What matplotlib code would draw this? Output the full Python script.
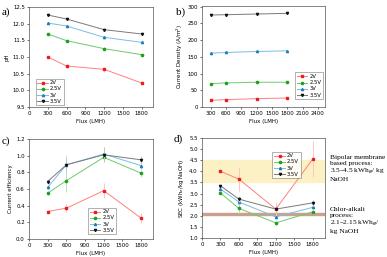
import numpy as np
import matplotlib
matplotlib.use("Agg")
import matplotlib.pyplot as plt
from matplotlib.lines import Line2D

plt.rcParams["font.family"] = ["DejaVu Sans"]

flux = [300, 600, 1200, 1800]
voltages = ["2V", "2.5V", "3V", "3.5V"]

# a) pH
ph = {
    "2V": [11.00, 10.73, 10.63, 10.22],
    "2.5V": [11.69, 11.49, 11.25, 11.07],
    "3V": [12.02, 11.93, 11.59, 11.44],
    "3.5V": [12.26, 12.14, 11.82, 11.69],
}
ph_err = {
    "2V": [0.02, 0.05, 0.08, 0.07],
    "2.5V": [0.02, 0.05, 0.04, 0.03],
    "3V": [0.02, 0.03, 0.04, 0.03],
    "3.5V": [0.02, 0.03, 0.04, 0.03],
}

# b) current density
cd = {
    "2V": [20, 22, 25, 27],
    "2.5V": [70, 72, 74, 74],
    "3V": [161, 163, 166, 168],
    "3.5V": [275, 276, 278, 280],
}
cd_err = {
    "2V": [1, 1, 1, 1],
    "2.5V": [1, 1, 1, 1],
    "3V": [1, 1, 2, 1],
    "3.5V": [1, 2, 2, 2],
}

# c) current efficiency
ce = {
    "2V": [0.33, 0.37, 0.58, 0.25],
    "2.5V": [0.55, 0.70, 0.98, 0.79],
    "3V": [0.62, 0.89, 1.02, 0.88],
    "3.5V": [0.69, 0.89, 1.01, 0.95],
}
ce_err = {
    "2V": [0.02, 0.05, 0.09, 0.06],
    "2.5V": [0.02, 0.13, 0.06, 0.04],
    "3V": [0.03, 0.12, 0.08, 0.05],
    "3.5V": [0.03, 0.08, 0.09, 0.05],
}

# d) specific energy consumption
sec = {
    "2V": [4.00, 3.65, 2.30, 4.55],
    "2.5V": [3.03, 2.33, 1.68, 2.18],
    "3V": [3.20, 2.62, 1.95, 2.38],
    "3.5V": [3.35, 2.75, 2.30, 2.58],
}
sec_err = {
    "2V": [0.08, 0.55, 0.30, 0.80],
    "2.5V": [0.05, 0.20, 0.10, 0.12],
    "3V": [0.05, 0.15, 0.10, 0.10],
    "3.5V": [0.05, 0.15, 0.12, 0.12],
}

line_col = {"2V": "#ff8080", "2.5V": "#70c870", "3V": "#7ebde0", "3.5V": "#7a7a7a"}
err_col = {"2V": "#ffc4c4", "2.5V": "#b8e4b8", "3V": "#bfe0f0", "3.5V": "#c4c4c4"}
mark_col = {"2V": "#ee1c1c", "2.5V": "#1f9e1f", "3V": "#1f7fc0", "3.5V": "#111111"}
markers = {"2V": "s", "2.5V": "o", "3V": "^", "3.5V": "v"}

fig = plt.figure(figsize=(3.87, 2.57), dpi=100)
W, H = 387, 257


def box(x0, y0, x1, y1):
    return [x0 / W, 1 - y1 / H, (x1 - x0) / W, (y1 - y0) / H]


ax_a = fig.add_axes(box(29, 7, 153, 107))
ax_b = fig.add_axes(box(202, 6, 325, 107))
ax_c = fig.add_axes(box(29, 139, 153, 239))
ax_d = fig.add_axes(box(202, 138, 325, 238))


def draw(ax, data, err):
    for v in voltages:
        ax.errorbar(flux, data[v], yerr=err[v], fmt="none", ecolor=err_col[v],
                    elinewidth=0.7, capsize=0)
        ax.plot(flux, data[v], color=line_col[v], lw=0.7, marker=markers[v],
                ms=1.6, mfc=mark_col[v], mec=mark_col[v], label=v)


def style(ax):
    ax.tick_params(labelsize=3.9, length=1.5, width=0.4, pad=1.5)
    for s in ax.spines.values():
        s.set_linewidth(0.5)
        s.set_color("#555555")
    ax.set_xlabel("Flux (LMH)", fontsize=4.0, labelpad=2)


def legend(ax, **kw):
    handles = [Line2D([], [], color=line_col[v], lw=0.7, marker=markers[v],
                      ms=1.6, mfc=mark_col[v], mec=mark_col[v]) for v in voltages]
    lg = ax.legend(handles, voltages, fontsize=3.8, frameon=True, fancybox=False,
                   handlelength=2.0, handletextpad=0.4, borderpad=0.35,
                   labelspacing=0.2, borderaxespad=0.3, **kw)
    lg.get_frame().set_linewidth(0.4)
    lg.get_frame().set_edgecolor("#555555")


# a
draw(ax_a, ph, ph_err)
ax_a.set_xlim(0, 1980)
ax_a.set_ylim(9.5, 12.5)
ax_a.set_xticks(np.arange(0, 1801, 300))
ax_a.set_yticks(np.arange(9.5, 12.51, 0.5))
ax_a.set_ylabel("pH", fontsize=4.0, labelpad=2)
style(ax_a)
legend(ax_a, loc="lower left", bbox_to_anchor=(0.04, 0.0))

# b
draw(ax_b, cd, cd_err)
ax_b.set_xlim(130, 2540)
ax_b.set_ylim(0, 302)
ax_b.set_xticks(np.arange(300, 2401, 300))
ax_b.set_yticks(np.arange(0, 301, 50))
ax_b.set_ylabel("Current Density (A/m$^2$)", fontsize=4.0, labelpad=2)
style(ax_b)
legend(ax_b, loc="lower right", bbox_to_anchor=(1.0, 0.06))

# c
draw(ax_c, ce, ce_err)
ax_c.set_xlim(0, 1990)
ax_c.set_ylim(0, 1.2)
ax_c.set_xticks(np.arange(0, 1801, 300))
ax_c.set_yticks(np.arange(0, 1.21, 0.2))
ax_c.set_ylabel("Current efficiency", fontsize=4.0, labelpad=2)
style(ax_c)
legend(ax_c, loc="lower center", bbox_to_anchor=(0.59, 0.03))

# d
ax_d.axhspan(3.5, 4.5, color="#fcf1c4", zorder=0)
ax_d.axhspan(2.04, 2.13, color="#c9a18c", zorder=0)
draw(ax_d, sec, sec_err)
ax_d.set_xlim(0, 2000)
ax_d.set_ylim(1.0, 5.5)
ax_d.set_xticks(np.arange(0, 1801, 300))
ax_d.set_yticks(np.arange(1.0, 5.51, 0.5))
ax_d.set_ylabel("SEC (kWh$_e$/kg NaOH)", fontsize=4.0, labelpad=2)
style(ax_d)
legend(ax_d, loc="upper left", bbox_to_anchor=(0.56, 0.88))

serif = ["Liberation Serif", "DejaVu Serif"]
fig.text(330 / W, 1 - 155 / H,
         "Bipolar membrane\nbased process:\n3.5\u20134.5 kWh$_e$/ kg\nNaOH",
         family=serif, fontsize=5.3, va="top", ha="left", linespacing=1.2)
fig.text(330 / W, 1 - 207 / H,
         "Chlor-alkali\nprocess:\n2.1\u20132.15 kWh$_e$/\nkg NaOH",
         family=serif, fontsize=5.3, va="top", ha="left", linespacing=1.2)

for lab, x, y in [("a)", 2, 12), ("b)", 176, 12), ("c)", 2, 141), ("d)", 174, 139)]:
    fig.text(x / W, 1 - y / H, lab, family=serif, fontsize=8, va="center", ha="left")

fig.savefig("out.png", dpi=100)
